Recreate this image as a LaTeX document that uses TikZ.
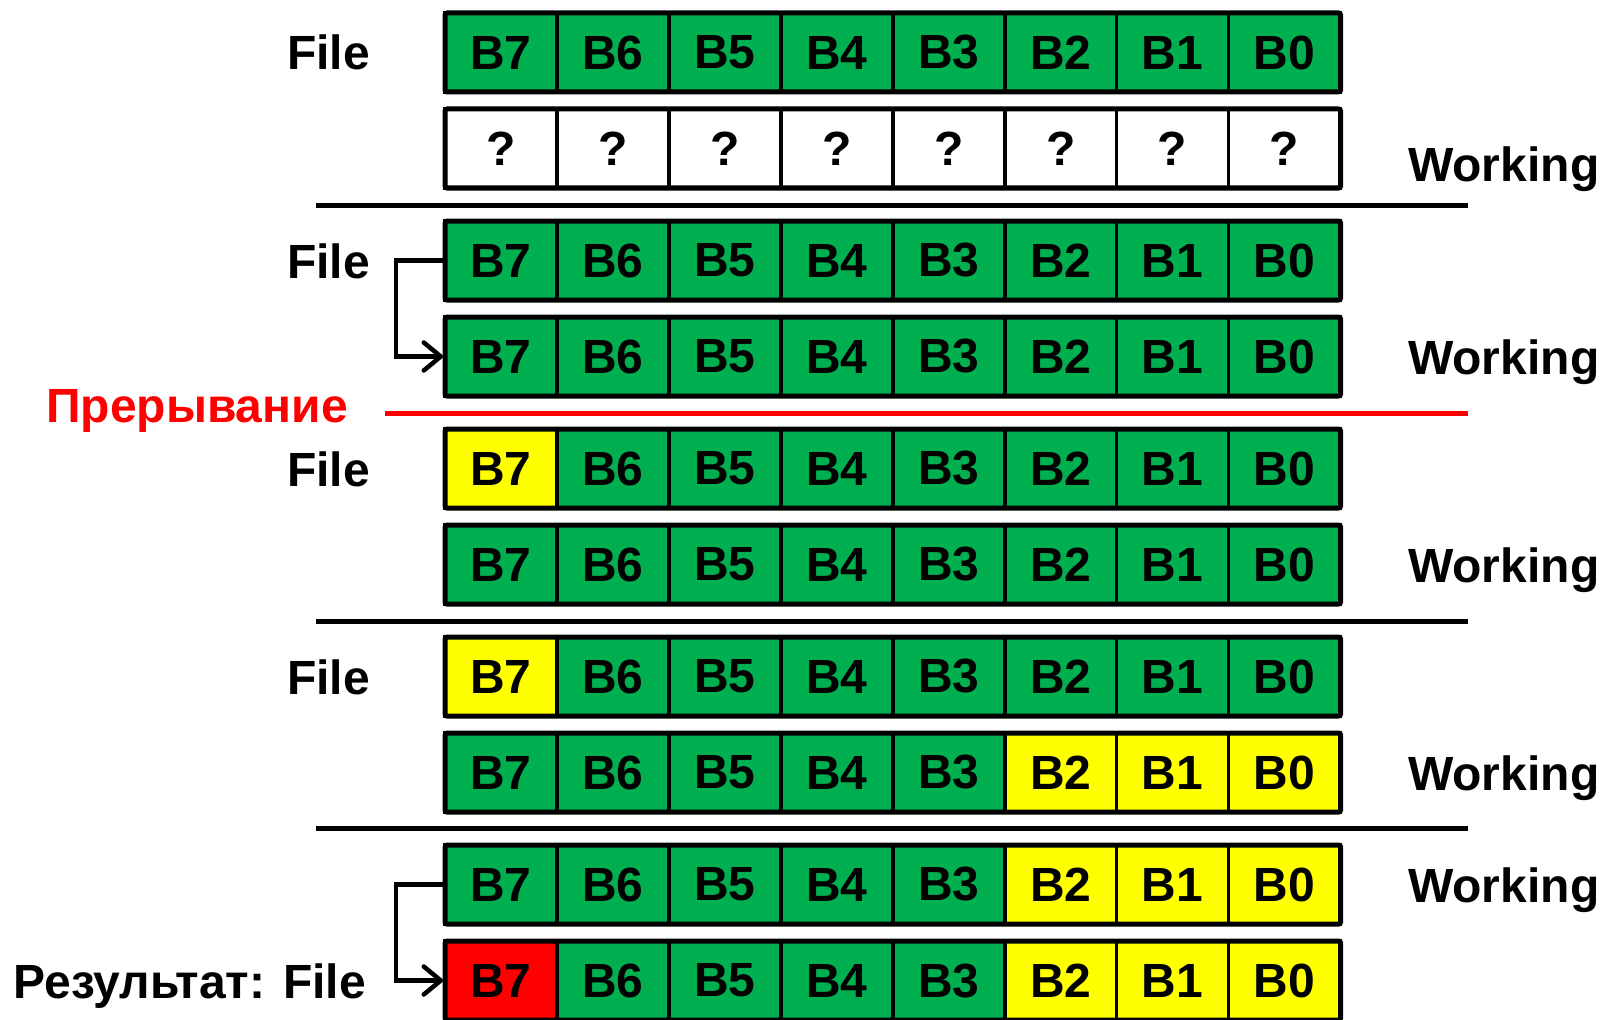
\documentclass[tikz,border=0pt]{standalone}
\usepackage{fontspec}
\setmainfont{Liberation Sans}
\usetikzlibrary{arrows.meta}
\definecolor{cg}{HTML}{00B050}
\definecolor{cy}{HTML}{FFFF00}
\definecolor{cr}{HTML}{FF0000}
\definecolor{cw}{HTML}{FFFFFF}
\newcommand\cellrow[4]{%
  \foreach \f [count=\i from 0] in {#3} {
    \pgfmathtruncatemacro\b{7-\i}
    \node[cell, fill=c\f] (#1c\b) at ({500.97+111.94*\i}, #2) {#4};
  }
  \draw[frame] (#1c7.north west) rectangle (#1c0.south east);
}
\begin{document}
\begin{tikzpicture}[x=1pt,y=-1pt,
  big/.style={font=\fontsize{48}{56}\selectfont\bfseries},
  cell/.style={big, draw=black, line width=3.6pt, minimum width=111.94pt, minimum height=79pt, inner sep=0pt, outer sep=0pt},
  frame/.style={draw=black, line width=5pt, rounded corners=2pt},
  lbl/.style={big, inner sep=0pt},
  sep/.style={line width=5pt},
  conn/.style={line width=4.5pt, -{Straight Barb[round,length=17pt,width=28pt,line width=4.5pt]}}]
\fill[white] (0,0) rectangle (1602,1019);
\useasboundingbox (0,0) rectangle (1602,1019);

\cellrow{r1}{52.5}{g,g,g,g,g,g,g,g}{B\b}
\cellrow{r2}{148.5}{w,w,w,w,w,w,w,w}{?}
\cellrow{r3}{260.5}{g,g,g,g,g,g,g,g}{B\b}
\cellrow{r4}{356.5}{g,g,g,g,g,g,g,g}{B\b}
\cellrow{r5}{468.5}{y,g,g,g,g,g,g,g}{B\b}
\cellrow{r6}{564.5}{g,g,g,g,g,g,g,g}{B\b}
\cellrow{r7}{676.5}{y,g,g,g,g,g,g,g}{B\b}
\cellrow{r8}{772.5}{g,g,g,g,g,y,y,y}{B\b}
\cellrow{r9}{884.5}{g,g,g,g,g,y,y,y}{B\b}
\cellrow{r10}{980.5}{r,g,g,g,g,y,y,y}{B\b}

% separators
\coordinate (s1a) at (316,205);  \coordinate (s1b) at (1468,205);
\coordinate (s2a) at (385,413);  \coordinate (s2b) at (1468,413);
\coordinate (s3a) at (316,621);  \coordinate (s3b) at (1468,621);
\coordinate (s4a) at (316,828);  \coordinate (s4b) at (1468,828);
\draw[sep] (s1a) -- (s1b);
\draw[sep, cr] (s2a) -- (s2b);
\draw[sep] (s3a) -- (s3b);
\draw[sep] (s4a) -- (s4b);

% copy arrows
\coordinate (ax) at (396,0);
\draw[conn] (r3c7.west) -- (r3c7.west -| ax) |- ([xshift=-2pt]r4c7.west);
\draw[conn] (r9c7.west) -- (r9c7.west -| ax) |- ([xshift=-2pt]r10c7.west);

% labels
\node[lbl, anchor=base east] (f1) at (370,70) {File};
\node[lbl, anchor=base east] (f3) at (370,278) {File};
\node[lbl, anchor=base east] (f5) at (370,486) {File};
\node[lbl, anchor=base east] (f7) at (370,694) {File};
\node[lbl, anchor=base east] (res) at (366,998) {Результат: File};
\node[lbl, anchor=base west, text=cr] (intr) at (46,422) {Прерывание};
\node[lbl, anchor=base west] (w2) at (1408,182) {Working};
\node[lbl, anchor=base west] (w4) at (1408,374) {Working};
\node[lbl, anchor=base west] (w6) at (1408,582) {Working};
\node[lbl, anchor=base west] (w8) at (1408,790) {Working};
\node[lbl, anchor=base west] (w9) at (1408,902) {Working};
\end{tikzpicture}
\end{document}
